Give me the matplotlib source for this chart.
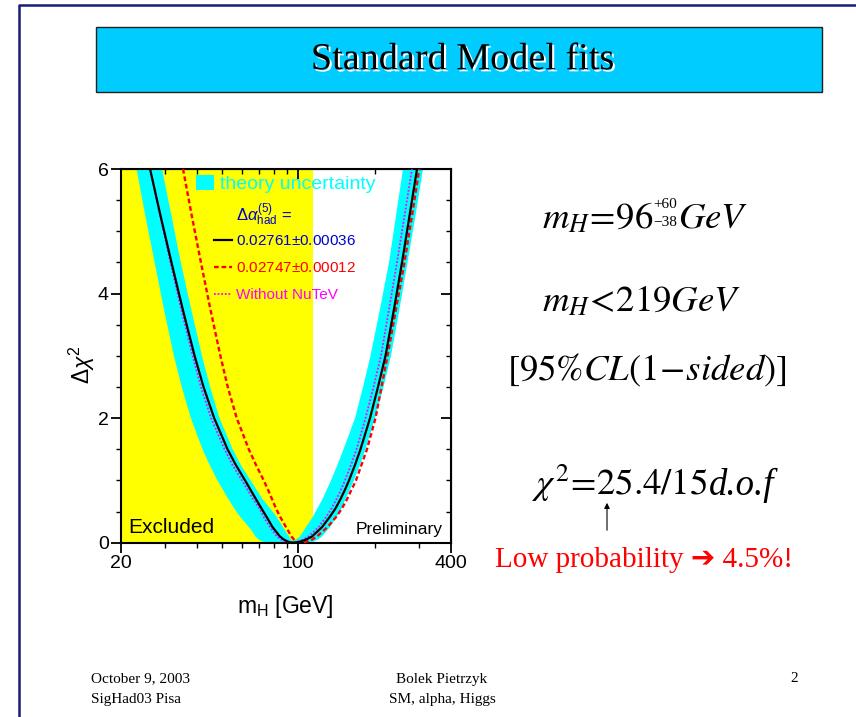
import matplotlib.pyplot as plt
import matplotlib.patheffects as pe
from matplotlib.patches import Rectangle, FancyArrowPatch
from matplotlib.lines import Line2D
from matplotlib.ticker import NullFormatter, MultipleLocator, LogLocator

plt.rcParams['font.family'] = ['Liberation Sans', 'DejaVu Sans']
plt.rcParams['mathtext.fontset'] = 'custom'
plt.rcParams['mathtext.rm'] = 'Liberation Sans'
plt.rcParams['mathtext.it'] = 'Liberation Sans:italic'
plt.rcParams['mathtext.bf'] = 'Liberation Sans:bold'

# Delta chi^2 levels the curves were read at (left branch, then right branch)
lvl_left = [6.0, 5.25, 4.5, 3.75, 3.0, 2.5, 2.0, 1.5, 1.25, 1.0, 0.85, 0.7,
            0.55, 0.42, 0.25, 0.1, 0.05, 0.01, 0.0]
lvl_right = [0.01, 0.05, 0.1, 0.25, 0.42, 0.55, 0.7, 0.85, 1.0, 1.25, 1.5,
             2.0, 2.5, 3.0, 3.75, 4.5, 5.25, 6.0]

# Delta alpha_had = 0.02761 +- 0.00036
mh_fit = [26.1, 28.7, 31.7, 35.1, 39.1, 42.4, 46.7, 52.7, 56.8, 61.8, 64.9,
          68.2, 71.7, 75.0, 79.3, 84.8, 87.9, 92.0, 95.4,
          100.8, 107.4, 113.4, 124.2, 133.5, 140.3, 146.8, 152.9, 158.6,
          167.5, 176.0, 191.9, 206.3, 220.8, 238.5, 256.5, 274.6, 293.9]

# Delta alpha_had = 0.02747 +- 0.00012
mh_alt = [35.2, 38.1, 41.4, 45.1, 49.4, 52.8, 57.3, 63.9, 68.2, 73.2, 76.1,
          78.9, 81.8, 84.8, 89.6, 94.1, 96.3, 99.2, 101.7,
          106.8, 113.4, 118.6, 130.5, 141.6, 148.8, 155.8, 162.2, 169.0,
          177.6, 186.7, 201.7, 213.0, 224.9, 242.9, 262.3, 280.8, 300.1]

# fit without NuTeV
mh_nonutev = [26.1, 28.6, 31.4, 34.6, 38.4, 41.4, 45.4, 51.3, 55.1, 60.1,
              63.2, 66.4, 70.4, 73.0, 77.5, 82.5, 85.6, 89.6, 92.9,
              98.1, 104.5, 109.8, 120.3, 129.3, 135.3, 141.6, 147.5, 152.9,
              161.5, 169.8, 184.2, 198.1, 212.0, 228.0, 245.1, 262.3, 280.8]

# theory uncertainty band edges
band_outer_left_mh = [23.1, 25.0, 27.2, 29.6, 32.4, 34.8, 37.8, 42.0, 44.8,
                      48.1, 53.1, 56.0, 59.0, 65.5, 67.9, 69.8, 74.0]
band_outer_left_dchi2 = [6.0, 5.25, 4.5, 3.75, 3.0, 2.5, 2.0, 1.5, 1.25,
                         1.0, 0.7, 0.55, 0.42, 0.2, 0.1, 0.05, 0.0]
band_outer_right_mh = [109.3, 113.9, 119.7, 124.2, 133.5, 142.2, 148.2, 153.6,
                       166.0, 175.2, 184.2, 200.8, 216.9, 232.1, 250.7, 269.6,
                       289.9, 310.3]
band_outer_right_dchi2 = [0.0, 0.01, 0.05, 0.1, 0.25, 0.42, 0.55, 0.7,
                          1.0, 1.25, 1.5, 2.0, 2.5, 3.0, 3.75, 4.5,
                          5.25, 6.0]
band_inner_right_mh = [258.8, 242.9, 228.0, 210.1, 192.7, 180.1, 167.5, 150.9,
                       142.9, 134.7, 124.7, 114.4, 107.4, 101.7, 98.1, 94.6]
band_inner_right_dchi2 = [6.0, 5.25, 4.5, 3.75, 3.0, 2.5, 2.0, 1.5,
                          1.25, 1.0, 0.7, 0.42, 0.25, 0.1, 0.05, 0.03]
band_inner_left_mh = [92.0, 87.2, 82.2, 72.4, 65.0, 59.4, 55.2, 49.0, 45.0,
                      41.8, 37.9, 34.5, 31.7, 29.1]
band_inner_left_dchi2 = [0.1, 0.25, 0.42, 0.7, 1.0, 1.25, 1.5, 2.0, 2.5,
                         3.0, 3.75, 4.5, 5.25, 6.0]

lep_limit = 114.4
x_ticks = [20, 100, 400]
y_ticks = [0, 2, 4, 6]

W, H = 856, 717


def fx(px):
    return px / W


def fy(py):
    return 1 - py / H


fig = plt.figure(figsize=(W / 100, H / 100), dpi=100)

# slide frame and title bar
fig.add_artist(Line2D([fx(19), fx(19), 1.0], [0.0, fy(5), fy(5)],
                      color='#1a1a78', lw=1.8))
fig.add_artist(Rectangle((fx(96), fy(92)), fx(822) - fx(96), fy(27) - fy(92),
                         facecolor='#00CCFF', edgecolor='#202020', lw=1.0))
fig.text(fx(463), fy(60), 'Standard Model fits', ha='center', va='center',
         fontsize=27.5, family='Liberation Serif',
         path_effects=[pe.SimplePatchShadow(offset=(1.5, -1.5),
                                            shadow_rgbFace='white', alpha=1),
                       pe.Normal()])

ax = fig.add_axes([fx(120.7), fy(542.7), (451 - 120.7) / W, (542.7 - 169) / H])
ax.set_xscale('log')
ax.set_xlim(20, 400)
ax.set_ylim(0, 6)

lvl = lvl_left + lvl_right
band_mh = (band_outer_left_mh + band_outer_right_mh
           + band_inner_right_mh + band_inner_left_mh)
band_dchi2 = (band_outer_left_dchi2 + band_outer_right_dchi2
              + band_inner_right_dchi2 + band_inner_left_dchi2)

ax.axvspan(20, lep_limit, color='#FFFF00', lw=0, zorder=0)
band = ax.fill(band_mh, band_dchi2, color='#00FFFF', lw=0, zorder=1,
               label='theory uncertainty')[0]
l_nonutev, = ax.plot(mh_nonutev, lvl, color='#FF00FF', lw=1.3,
                     ls=(0, (1, 1)), zorder=3, label='Without NuTeV')
l_alt, = ax.plot(mh_alt, lvl, color='red', lw=1.7,
                 ls=(0, (2, 1.2)), zorder=3, label='0.02747$\\pm$0.00012')
l_fit, = ax.plot(mh_fit, lvl, color='black', lw=1.6, zorder=4,
                 label='0.02761$\\pm$0.00036')

# axis styling: ticks out on left/bottom, in on right/top
for s in ax.spines.values():
    s.set_linewidth(1.5)
ax.set_xticks(x_ticks, labels=[str(v) for v in x_ticks])
ax.xaxis.set_minor_locator(LogLocator(base=10, subs=range(2, 10)))
ax.xaxis.set_minor_formatter(NullFormatter())
ax.set_yticks(y_ticks)
ax.yaxis.set_minor_locator(MultipleLocator(0.5))
ax.tick_params(which='both', direction='out', top=False, right=False)
ax.tick_params(which='major', length=7, width=1.3, labelsize=14, pad=1.5)
ax.tick_params(which='minor', length=3.6, width=1.0)

secx = ax.secondary_xaxis('top')
secx.set_xticks(x_ticks)
secx.xaxis.set_minor_locator(LogLocator(base=10, subs=range(2, 10)))
secx.xaxis.set_minor_formatter(NullFormatter())
secx.tick_params(which='both', direction='in', labeltop=False)
secx.tick_params(which='major', length=7, width=1.3)
secx.tick_params(which='minor', length=3.6, width=1.0)
secy = ax.secondary_yaxis('right')
secy.set_yticks(y_ticks)
secy.yaxis.set_minor_locator(MultipleLocator(0.5))
secy.tick_params(which='both', direction='in', labelright=False)
secy.tick_params(which='major', length=7, width=1.3)
secy.tick_params(which='minor', length=3.6, width=1.0)

ax.set_xlabel(r'm$_\mathrm{H}$ [GeV]', fontsize=16.5)
ax.xaxis.set_label_coords(0.5, (542.7 - 606.7) / 373.7)
ax.xaxis.label.set_va('center')
ax.set_ylabel(r'$\Delta\chi^2$', fontsize=16.5)
ax.yaxis.set_label_coords((82 - 120.7) / 330.3, (542.7 - 365) / 373.7)
ax.yaxis.label.set_va('center')

ax.text(0.022, 0.04, 'Excluded', transform=ax.transAxes, fontsize=15,
        va='center', ha='left', zorder=5)
ax.text(0.976, 0.034, 'Preliminary', transform=ax.transAxes, fontsize=12.5,
        va='center', ha='right', zorder=5)

# legends
leg1 = ax.legend(handles=[band], loc='upper left',
                 bbox_to_anchor=(0.228, 0.985), frameon=False, fontsize=14,
                 borderpad=0, borderaxespad=0, handlelength=0.95,
                 handleheight=0.85, handletextpad=0.3, labelcolor='#00FFFF')
ax.add_artist(leg1)
ax.text(0.349, 0.877, r'$\Delta\alpha^{(5)}_{\mathrm{had}}$ =',
        transform=ax.transAxes, fontsize=12, color='#0000CC',
        va='center', ha='left', zorder=5)
leg2 = ax.legend(handles=[l_fit, l_alt, l_nonutev], loc='upper left',
                 bbox_to_anchor=(0.2825, 0.826), frameon=False, fontsize=11,
                 borderpad=0, borderaxespad=0, handlelength=1.2,
                 handletextpad=0.25, labelspacing=0.85,
                 labelcolor=['#0000CC', 'red', '#FF00FF'])

# results on the right; pieces are laid out one after another
fig.canvas.draw()
rend = fig.canvas.get_renderer()
to_fig = fig.transFigure.inverted()


def right_edge(t):
    bb = t.get_window_extent(renderer=rend)
    return to_fig.transform((bb.x1, bb.y1))[0]


mt = dict(fontsize=26.5, math_fontfamily='stix', color='black', ha='left',
          va='baseline')
sc = dict(fontsize=11, family='Liberation Serif', color='black', ha='left',
          va='center')
it = dict(fontsize=26.5, family='Liberation Serif', style='italic',
          color='black', ha='left', va='baseline')

t = fig.text(fx(542), fy(228), r'$m_H\!=\!96$', **mt)
x = right_edge(t) + 0.5 / W
t_up = fig.text(x, fy(205), '+60', **sc)
t_dn = fig.text(x, fy(223), '\u221238', **sc)
x = max(right_edge(t_up), right_edge(t_dn)) + 0.5 / W
fig.text(x, fy(228), r'$GeV$', **mt)

fig.text(fx(542), fy(311.7), r'$m_H\!<\!219GeV$', **mt)
fig.text(fx(507), fy(380), r'$[95\%CL(1\!-\!sided)]$', **mt)

t = fig.text(fx(532), fy(495), r'$\chi^2\!=\!25.4/15$', **mt)
fig.text(right_edge(t) + 1 / W, fy(495), 'd.o.f', **it)

fig.add_artist(FancyArrowPatch((fx(607), fy(533)), (fx(607), fy(500)),
                               transform=fig.transFigure, arrowstyle='-|>',
                               mutation_scale=8, lw=0.8, color='black'))
fig.text(fx(495), fy(566.7), 'Low probability \u2794 4.5%!', color='red',
         fontsize=21, family=['Liberation Serif', 'DejaVu Sans'],
         ha='left', va='baseline')

# footer
ft = dict(fontsize=11, family='Liberation Serif', va='center')
fig.text(fx(91), fy(679), 'October 9, 2003', ha='left', **ft)
fig.text(fx(91), fy(700), 'SigHad03 Pisa', ha='left', **ft)
fig.text(fx(442), fy(679), 'Bolek Pietrzyk', ha='center', **ft)
fig.text(fx(442), fy(700), 'SM, alpha, Higgs', ha='center', **ft)
fig.text(fx(794), fy(679), '2', ha='center', **ft)

fig.savefig('out.png', dpi=100)
